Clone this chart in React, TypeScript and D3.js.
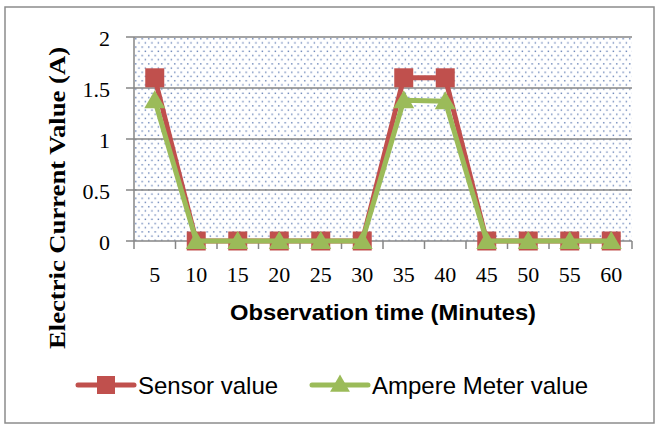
import React from 'react';
import * as d3 from 'd3';

const minutes = ['5', '10', '15', '20', '25', '30', '35', '40', '45', '50', '55', '60'];
const sensorValues = [1.6, 0, 0, 0, 0, 0, 1.6, 1.6, 0, 0, 0, 0];
const ampereValues = [1.38, 0, 0, 0, 0, 0, 1.38, 1.37, 0, 0, 0, 0];
const yTicks = [0, 0.5, 1, 1.5, 2];

const RED = '#C0504D';
const GREEN = '#9BBB59';
const GRID = '#868686';

const W = 657;
const H = 426;
const plot = { left: 134, right: 632, top: 37, bottom: 241 };

const App: React.FC = () => {
  const x = d3.scaleBand<string>()
    .domain(minutes)
    .range([plot.left, plot.right]);
  const y = d3.scaleLinear()
    .domain([0, 2])
    .range([plot.bottom, plot.top]);

  const cx = (d: string) => (x(d) ?? 0) + x.bandwidth() / 2;

  const line = d3.line<number>()
    .x((d, i) => cx(minutes[i]))
    .y(d => y(d));

  const sq = d3.symbol().type(d3.symbolSquare).size(19 * 19)();
  const tri = d3.symbol().type(d3.symbolTriangle).size(190)();

  // x tick positions at category boundaries
  const bounds = minutes.map(m => x(m) ?? 0).concat([plot.right]);
  const serif = 'Liberation Serif, Times New Roman, serif';
  const sans = 'Liberation Sans, Arial, sans-serif';

  return (
    <svg width={W} height={H} style={{ position: 'absolute', left: 0, top: 0, background: '#fff' }}>
      <defs>
        <pattern id="dots" width={6.5} height={8.4} patternUnits="userSpaceOnUse" x={plot.left} y={plot.top}>
          <rect x={1} y={1} width={1.4} height={1.4} fill="#4a6aa8" opacity={0.85} />
          <rect x={4.25} y={5.2} width={1.4} height={1.4} fill="#4a6aa8" opacity={0.85} />
        </pattern>
      </defs>
      <rect x={5} y={7} width={649} height={416} fill="#fff" stroke="#8c8c8c" strokeWidth={1.5} />

      {/* plot area */}
      <rect x={plot.left} y={plot.top} width={plot.right - plot.left} height={plot.bottom - plot.top} fill="url(#dots)" />

      {/* gridlines */}
      {yTicks.map(t => (
        <g key={t}>
          <line x1={plot.left} x2={plot.right} y1={y(t)} y2={y(t)} stroke={GRID} strokeWidth={1.5} />
          <line x1={plot.left - 8} x2={plot.left} y1={y(t)} y2={y(t)} stroke={GRID} strokeWidth={1.5} />
          <text x={110} y={y(t) + 1} dy="0.35em" textAnchor="end" fontFamily={serif} fontSize={22}>{t}</text>
        </g>
      ))}
      <line x1={plot.left} x2={plot.left} y1={plot.top} y2={plot.bottom} stroke={GRID} strokeWidth={1.5} />
      {bounds.map((b, i) => (
        <line key={i} x1={b} x2={b} y1={plot.bottom} y2={plot.bottom + 8} stroke={GRID} strokeWidth={1.5} />
      ))}
      {minutes.map(m => (
        <text key={m} x={cx(m)} y={274} dy="0.35em" textAnchor="middle" fontFamily={serif} fontSize={22}>{m}</text>
      ))}

      {/* sensor series */}
      <path d={line(sensorValues) ?? ''} fill="none" stroke={RED} strokeWidth={5} strokeLinejoin="round" />
      {sensorValues.map((v, i) => (
        <path key={i} d={sq ?? ''} transform={`translate(${cx(minutes[i])},${y(v)})`} fill={RED} />
      ))}

      {/* ampere meter series */}
      <path d={line(ampereValues) ?? ''} fill="none" stroke={GREEN} strokeWidth={5} strokeLinejoin="round" />
      {ampereValues.map((v, i) => (
        <path key={i} d={tri ?? ''} transform={`translate(${cx(minutes[i])},${y(v) + 2})`} fill={GREEN} />
      ))}

      {/* axis titles */}
      <text transform="translate(57,198) rotate(-90)" dy="0.35em" textAnchor="middle"
        fontFamily={serif} fontWeight="bold" fontSize={23} textLength={302} lengthAdjust="spacingAndGlyphs">
        Electric Current Value (A)
      </text>
      <text x={(plot.left + plot.right) / 2} y={312} dy="0.35em" textAnchor="middle"
        fontFamily={sans} fontWeight="bold" fontSize={22} textLength={306} lengthAdjust="spacingAndGlyphs">
        Observation time (Minutes)
      </text>

      {/* legend */}
      <line x1={78} x2={134} y1={385} y2={385} stroke={RED} strokeWidth={5} strokeLinecap="round" />
      <path d={d3.symbol().type(d3.symbolSquare).size(18 * 18)() ?? ''} transform="translate(106,385)" fill={RED} />
      <text x={138} y={386} dy="0.35em" fontFamily={sans} fontSize={24}>Sensor value</text>

      <line x1={312} x2={368} y1={385} y2={385} stroke={GREEN} strokeWidth={5} strokeLinecap="round" />
      <path d={d3.symbol().type(d3.symbolTriangle).size(170)() ?? ''} transform="translate(340,386)" fill={GREEN} />
      <text x={372} y={386} dy="0.35em" fontFamily={sans} fontSize={24}>Ampere Meter value</text>
    </svg>
  );
};

export default App;
